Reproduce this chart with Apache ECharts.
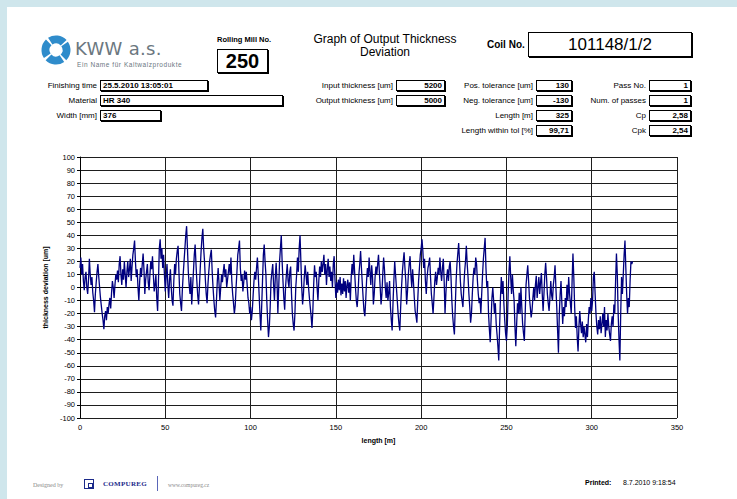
<!DOCTYPE html>
<html>
<head>
<meta charset="utf-8">
<script src="https://cdn.jsdelivr.net/npm/echarts@6/dist/echarts.min.js"></script>
<style>
  html, body { margin:0; padding:0; }
  body { width:737px; height:499px; position:relative; overflow:hidden; background:#fff;
         font-family:"Liberation Sans", Arial, sans-serif; color:#000; }
  #chart { position:absolute; left:0; top:0; width:737px; height:499px; }
  .abs { position:absolute; white-space:nowrap; }
  .lbl { position:absolute; font-size:8px; line-height:11px; white-space:nowrap; text-align:right; }
  .box { position:absolute; box-sizing:border-box; border:1px solid #000; box-shadow:1px 1px 0 #000;
         font-size:8px; font-weight:bold; line-height:9px; white-space:nowrap; padding:0 2px; background:#fff; }
  .strip { position:absolute; background:#cfe6ec; }
  .hdr { z-index:2; }
</style>
</head>
<body>
<div id="chart"></div>

<div class="strip hdr" style="left:0;top:0;width:737px;height:7px;"></div>
<div class="strip hdr" style="left:0;top:0;width:7px;height:499px;"></div>

<div id="header" class="hdr" style="position:absolute;left:0;top:0;width:737px;height:140px;"></div>
<div id="footer" class="hdr" style="position:absolute;left:0;top:470px;width:737px;height:29px;"></div>

<script>
// ---------------- header / report values ----------------
const leftFields = [
  { label: "Finishing time", value: "25.5.2010 13:05:01", width: 108 },
  { label: "Material",       value: "HR 340",             width: 183 },
  { label: "Width [mm]",     value: "376",                width: 61 }
];
const thicknessFields = [
  { label: "Input thickness [um]",  value: "5200" },
  { label: "Output thickness [um]", value: "5000" }
];
const toleranceFields = [
  { label: "Pos. tolerance [um]",   value: "130" },
  { label: "Neg. tolerance [um]",   value: "-130" },
  { label: "Length [m]",            value: "325" },
  { label: "Length within tol [%]", value: "99,71" }
];
const passFields = [
  { label: "Pass No.",       value: "1" },
  { label: "Num. of passes", value: "1" },
  { label: "Cp",             value: "2,58" },
  { label: "Cpk",            value: "2,54" }
];
const rollingMillNo = "250";
const coilNo = "101148/1/2";
const titleLines = ["Graph of Output Thickness", "Deviation"];
const printedAt = "8.7.2010 9:18:54";

// ---------------- chart data ----------------
const xTicks = [0, 50, 100, 150, 200, 250, 300, 350];
const yTicks = [-100, -90, -80, -70, -60, -50, -40, -30, -20, -10, 0, 10, 20, 30, 40, 50, 60, 70, 80, 90, 100];
const xAxisName = "length [m]";
const yAxisName = "thickness deviation [um]";
const sampleStepM = 0.5;   // one reading every 0.5 m of strip length
// thickness deviation [um], one row = 10 m
const deviation = [
  15,23,10,18,5,-2,8,12,0,-5,6,22,10,2,8,-4,-10,-19,-5,4,
  12,18,8,0,-8,-14,-20,-25,-32,-22,-18,-25,-15,-20,-13,-8,-16,-4,5,0,
  -8,2,10,6,13,4,18,24,10,2,14,6,20,10,0,12,20,8,14,22,
  5,16,25,30,36,20,8,14,0,-10,5,15,8,18,26,14,-5,6,12,18,
  4,-2,10,20,14,24,10,-3,2,10,-8,-18,5,30,37,22,30,15,25,10,
  -3,8,18,2,-8,6,14,0,-10,-14,5,18,10,22,28,32,12,-5,-12,-18,
  -2,10,20,30,40,47,30,12,2,-5,8,-13,0,12,25,33,18,5,-6,-13,
  0,15,28,38,45,30,20,6,-5,-12,2,12,20,25,29,12,0,-10,-18,-23,
  -10,5,15,3,-10,0,10,4,12,18,8,14,0,6,12,18,10,23,5,-5,
  -12,-20,-14,0,12,25,30,36,15,5,10,-3,4,13,6,12,2,-8,-12,-20,
  -15,-25,-18,-6,5,12,6,15,23,10,-5,-20,-33,-15,5,25,33,20,10,-10,
  -25,-38,-30,-15,5,12,18,2,-10,8,19,5,-20,0,20,30,40,20,5,-8,
  -17,0,10,18,5,0,12,16,-5,-20,-28,-33,-20,0,10,23,12,30,40,20,
  0,-13,-5,8,17,10,2,12,0,-8,-15,-22,-31,-18,2,17,8,12,0,-10,
  5,16,8,20,12,18,25,10,18,2,14,22,8,16,5,12,0,18,24,6,
  -8,4,-4,6,-2,8,-6,3,-5,7,-3,5,-8,2,6,-4,4,-10,8,18,
  10,25,12,0,-10,-15,-5,10,18,28,15,3,-8,-18,-22,-10,5,15,8,23,
  12,2,17,8,-13,-5,8,16,10,18,25,12,0,-13,-5,10,23,14,0,-8,
  4,-10,-4,5,-15,-25,-33,-12,5,20,10,0,-10,-20,-28,-33,-15,0,12,20,
  27,15,5,-13,-3,10,18,24,10,0,14,4,-8,-18,-22,-27,-10,5,15,25,
  30,37,28,15,22,5,-5,8,15,18,23,8,-5,-12,-20,-8,5,12,2,8,
  15,10,23,12,5,15,22,5,-20,-5,8,14,5,16,20,8,-10,-22,-30,-36,
  -15,5,18,26,34,20,5,-5,-10,-15,0,12,20,32,18,8,-5,-15,-27,-20,
  -5,8,15,10,23,18,5,-5,-12,-8,-20,-5,10,22,30,38,15,0,5,-20,
  -32,-42,-25,-8,0,-10,-20,-12,-28,-36,-45,-56,-30,-8,8,-5,5,-12,-25,-35,
  -41,-30,-5,12,24,8,-5,10,-2,-10,-30,-45,-28,-12,-20,-4,-20,0,-15,-28,
  -35,-41,-20,2,10,17,5,-8,-15,-23,-18,-8,0,-10,2,9,-8,0,8,-5,
  4,11,-5,-18,-5,10,19,8,-5,-12,-18,-8,5,-6,-10,2,8,17,0,-15,
  -33,-50,-20,-5,5,-12,-28,-15,-22,-8,-15,2,-10,8,-5,-12,-20,5,26,8,
  -15,-31,-22,-38,-49,-30,-18,-28,-35,-26,-38,-30,-36,-42,-28,-38,-25,-15,-20,-8,
  -18,-10,8,12,-5,-20,-30,-36,-25,-32,-22,-35,-28,-20,-30,-15,-38,-25,-33,-20,
  -30,-36,-41,-28,-22,-30,-13,-20,5,26,10,-20,-40,-56,-20,8,-5,10,25,36,
  15,-5,-20,-8,-15,5,20,18,20
];

// ---------------- build header ----------------
const header = document.getElementById('header');
function add(parent, html, style, cls) {
  const d = document.createElement('div');
  d.className = cls || 'abs';
  d.setAttribute('style', style);
  d.innerHTML = html;
  parent.appendChild(d);
  return d;
}
// logo
add(header,
  '<svg width="32" height="32" viewBox="0 0 32 32">' +
  '<circle cx="16" cy="16" r="10.5" fill="none" stroke="#2f8ccb" stroke-width="8" ' +
  'stroke-dasharray="14.5 2" transform="rotate(-35 16 16)"/></svg>',
  'left:40px;top:34px;width:32px;height:32px;');
add(header, 'KWW a.s.', 'left:75px;top:38px;font-family:"DejaVu Sans",sans-serif;font-size:18px;line-height:22px;color:#6b7780;letter-spacing:0.3px;');
add(header, 'Ein Name für Kaltwalzprodukte', 'left:77px;top:61px;font-size:6.5px;line-height:8px;color:#6b7780;letter-spacing:0.55px;');

add(header, 'Rolling Mill No.', 'left:217px;top:35px;font-size:7.5px;line-height:10px;font-weight:bold;');
add(header, rollingMillNo, 'left:217px;top:49px;width:51px;height:24px;font-size:20px;line-height:22px;text-align:center;padding:0;', 'box');

add(header, titleLines.join('<br>'), 'left:300px;top:33px;width:170px;font-size:12px;line-height:13px;text-align:center;');
add(header, 'Coil No.', 'left:487px;top:39px;font-size:10px;line-height:12px;font-weight:bold;');
add(header, coilNo, 'left:528px;top:32px;width:164px;height:25px;font-size:17px;line-height:23px;font-weight:normal;text-align:center;padding:0;', 'box');

const rowTops = [80, 95, 110, 125];
function fieldGroup(fields, labelEnd, boxLeft, boxWidth, alignRight) {
  fields.forEach((f, i) => {
    const t = rowTops[i];
    add(header, f.label, 'right:' + (737 - labelEnd) + 'px;top:' + t + 'px;', 'lbl');
    add(header, f.value, 'left:' + boxLeft + 'px;top:' + t + 'px;width:' + (f.width || boxWidth) + 'px;height:11px;' +
        (alignRight ? 'text-align:right;' : ''), 'box');
  });
}
fieldGroup(leftFields, 97, 100, 0, false);
fieldGroup(thicknessFields, 393, 396, 49, true);
fieldGroup(toleranceFields, 533, 536, 36, true);
fieldGroup(passFields, 646, 649, 42, true);

// ---------------- footer ----------------
const footer = document.getElementById('footer');
add(footer, 'Designed by', 'left:33px;top:11px;font-family:"Liberation Serif",serif;font-size:6px;line-height:8px;color:#8a8a8a;');
add(footer, '<div style="position:absolute;left:2.5px;top:2.5px;width:3px;height:3px;border:1px solid #1b2a8a;"></div>',
    'left:84px;top:9px;width:8px;height:8px;border:1px solid #1b2a8a;');
add(footer, 'COMPUREG', 'left:103px;top:10px;font-family:"Liberation Serif",serif;font-size:7px;line-height:9px;font-weight:bold;color:#1b2a8a;letter-spacing:0.3px;');
add(footer, '', 'left:157px;top:6px;width:1px;height:15px;background:#5a66b8;');
add(footer, 'www.compureg.cz', 'left:168px;top:11px;font-family:"Liberation Serif",serif;font-size:5.5px;line-height:8px;color:#8a8a8a;');
add(footer, 'Printed:', 'left:585px;top:8px;font-size:7px;line-height:9px;font-weight:bold;');
add(footer, printedAt, 'left:623px;top:8px;font-size:7px;line-height:9px;');

// ---------------- chart ----------------
const seriesData = deviation.map((v, i) => [i * sampleStepM, v]);
const chart = echarts.init(document.getElementById('chart'), null, { renderer: 'svg', width: 737, height: 499 });
const axisFont = { fontFamily: 'Liberation Sans, Arial, sans-serif', fontSize: 7.5, color: '#000' };
chart.setOption({
  animation: false,
  backgroundColor: '#fff',
  grid: { left: 80, top: 157, width: 597, height: 261, containLabel: false },
  xAxis: {
    type: 'value', min: xTicks[0], max: xTicks[xTicks.length - 1], interval: xTicks[1] - xTicks[0],
    name: xAxisName, nameLocation: 'middle', nameGap: 19,
    nameTextStyle: { fontFamily: 'Liberation Sans, Arial, sans-serif', fontSize: 7, fontWeight: 'bold', color: '#000' },
    axisLine: { show: true, lineStyle: { color: '#000', width: 1 } },
    axisTick: { show: true, length: 3, lineStyle: { color: '#000' } },
    axisLabel: Object.assign({ margin: 5 }, axisFont),
    splitLine: { show: true, lineStyle: { color: '#1e1e1e', width: 1 } }
  },
  yAxis: {
    type: 'value', min: yTicks[0], max: yTicks[yTicks.length - 1], interval: yTicks[1] - yTicks[0],
    name: yAxisName, nameLocation: 'middle', nameGap: 26,
    nameTextStyle: { fontFamily: 'Liberation Sans, Arial, sans-serif', fontSize: 7, fontWeight: 'bold', color: '#000' },
    axisLine: { show: true, lineStyle: { color: '#000', width: 1 } },
    axisTick: { show: true, length: 3, lineStyle: { color: '#000' } },
    axisLabel: Object.assign({ margin: 5 }, axisFont),
    splitLine: { show: true, lineStyle: { color: '#1e1e1e', width: 1 } }
  },
  series: [{
    type: 'line', data: seriesData, showSymbol: false, symbol: 'none',
    lineStyle: { color: '#00007f', width: 1.3 }, z: 3
  }]
});
</script>
</body>
</html>
